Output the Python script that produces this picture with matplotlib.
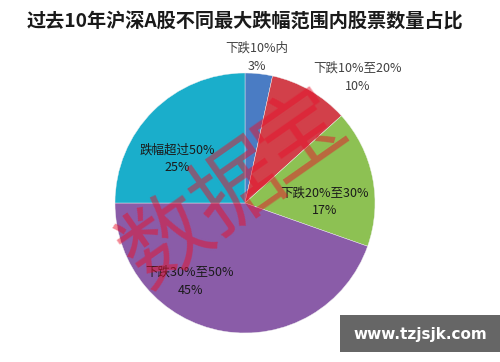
import matplotlib
matplotlib.use("Agg")
import matplotlib.pyplot as plt
from matplotlib.patches import Rectangle

plt.rcParams['font.family'] = ['Noto Sans CJK SC', 'DejaVu Sans']

title = "过去10年沪深A股不同最大跌幅范围内股票数量占比"
categories = ["下跌10%内", "下跌10%至20%", "下跌20%至30%", "下跌30%至50%", "跌幅超过50%"]
shares = [3.4, 9.9, 17.1, 44.6, 25.0]
pct_labels = ["3%", "10%", "17%", "45%", "25%"]
colors = ["#4A7CC4", "#D2404A", "#8DC153", "#8A5CA8", "#1AAECB"]

W, H = 500, 362
fig = plt.figure(figsize=(W / 100, H / 100), dpi=100)
fig.patch.set_facecolor("white")

# pie axes: center (245,203), radius 130 px
cx, cy, r = 245, 203, 130
ax = fig.add_axes([(cx - r) / W, 1 - (cy + r) / H, 2 * r / W, 2 * r / H])
wedges, _ = ax.pie(shares, colors=colors, startangle=90, counterclock=False,
                   radius=1.0, wedgeprops=dict(linewidth=0.3, edgecolor="#f0f0f0"))
ax.set_xlim(-1, 1)
ax.set_ylim(-1, 1)
ax.set_aspect("equal")
ax.axis("off")

fig.text(0.49, 1 - 22 / H, title, ha="center", va="center", fontsize=13.8,
         fontweight="bold", color="#1a1a1a")

# label pixel positions (centers)
label_pos = [(257, 48), (358, 68), (325, 193), (190, 272), (177, 150)]
label_col = ["#404040", "#404040", "#1a1a1a", "#1a1a1a", "#1a1a1a"]
for (x, y), cat, p, c in zip(label_pos, categories, pct_labels, label_col):
    fig.text(x / W, 1 - y / H, cat, ha="center", va="center", fontsize=9, color=c)
    fig.text(x / W, 1 - (y + 18) / H, p, ha="center", va="center", fontsize=9, color=c)

# watermark
wm = [("数", 168, 243), ("据", 238, 190), ("宝", 300, 135)]
for ch, x, y in wm:
    fig.text(x / W, 1 - y / H, ch, ha="center", va="center", fontsize=64,
             color="#E8102A", alpha=0.5, rotation=35, fontweight="light")

# url box
fig.patches.append(Rectangle((340 / W, 1 - 352 / H), 160 / W, 37 / H,
                             transform=fig.transFigure, facecolor="#666666",
                             edgecolor="none"))
fig.text(420 / W, 1 - 334 / H, "www.tzjsjk.com", ha="center", va="center",
         fontsize=11, fontweight="bold", color="white", family="DejaVu Sans")

fig.savefig("out.png", dpi=100)
